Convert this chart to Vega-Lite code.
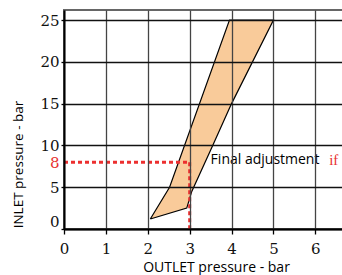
{
  "$schema": "https://vega.github.io/schema/vega-lite/v6.json",
  "width": 279,
  "height": 219,
  "autosize": "none",
  "padding": {"left": 64, "top": 10, "right": 0, "bottom": 46},
  "background": "white",
  "config": {"view": {"stroke": "#666", "strokeWidth": 2}},
  "datasets": {
    "poly": [
      {"i": 1, "x": 2.06, "y": 1.2},
      {"i": 2, "x": 2.52, "y": 5},
      {"i": 3, "x": 3.95, "y": 25},
      {"i": 4, "x": 5.0, "y": 25},
      {"i": 5, "x": 4.0, "y": 15},
      {"i": 6, "x": 3.55, "y": 10},
      {"i": 7, "x": 3.05, "y": 4.5},
      {"i": 8, "x": 2.93, "y": 2.5},
      {"i": 9, "x": 2.06, "y": 1.2}
    ],
    "red": [
      {"x": 0, "y": 8, "x2": 3, "y2": 8},
      {"x": 3, "y": 8, "x2": 3, "y2": 0}
    ],
    "labels": [
      {"x": 3.5, "y": 8.2, "label": "Final adjustment", "kind": "main"},
      {"x": 6.33, "y": 8.2, "label": "if", "kind": "red"}
    ]
  },
  "encoding": {
    "x": {
      "field": "x", "type": "quantitative",
      "scale": {"domain": [0, 6.66], "nice": false, "zero": false},
      "axis": {
        "values": [0, 1, 2, 3, 4, 5, 6],
        "title": "OUTLET pressure - bar",
        "titleFont": "Open Sans", "titleFontSize": 14, "titleFontWeight": "normal", "titleColor": "#000",
        "titleX": 152, "titleY": 38, "titleAlign": "center", "titleBaseline": "middle", "titleAnchor": null,
        "labelFont": "DejaVu Serif", "labelFontSize": 15, "labelColor": "#111", "labelFlush": false, "labelPadding": 7,
        "gridColor": "#444", "gridWidth": 1.3,
        "domainColor": "#000", "domainWidth": 2,
        "tickSize": 5, "tickColor": "#000", "tickWidth": 1.3,
        "zindex": 1
      }
    },
    "y": {
      "field": "y", "type": "quantitative",
      "scale": {"domain": [0, 26.2], "nice": false, "zero": false},
      "axis": {
        "values": [0, 5, 8, 10, 15, 20, 25],
        "title": "INLET pressure - bar",
        "titleFont": "Open Sans", "titleFontSize": 13.5, "titleFontWeight": "normal", "titleColor": "#000",
        "titleX": -46, "titleY": 154, "titleAngle": -90, "titleAlign": "center", "titleBaseline": "middle", "titleAnchor": null,
        "labelFont": "DejaVu Serif", "labelFontSize": 15, "labelFlush": true, "labelPadding": 2,
        "labelColor": {"condition": {"test": "datum.value == 8", "value": "#e8312f"}, "value": "#111"},
        "gridColor": "#111", "gridWidth": 1.3,
        "gridOpacity": {"condition": {"test": "datum.value == 8", "value": 0}, "value": 1},
        "domainColor": "#000", "domainWidth": 2,
        "tickSize": 3, "tickColor": "#000", "tickWidth": 1.3,
        "tickOpacity": {"condition": {"test": "datum.value == 8", "value": 0}, "value": 1},
        "zindex": 1
      }
    }
  },
  "layer": [
    {
      "data": {"name": "poly"},
      "mark": {"type": "line", "fill": "#f9cb9a", "stroke": "#000", "strokeWidth": 1.2},
      "encoding": {"order": {"field": "i", "type": "quantitative"}}
    },
    {
      "data": {"name": "red"},
      "mark": {"type": "rule", "color": "#ec2f2f", "strokeWidth": 3, "strokeDash": [4, 3]},
      "encoding": {"x2": {"field": "x2"}, "y2": {"field": "y2"}}
    },
    {
      "data": {"name": "labels"},
      "transform": [{"filter": "datum.kind == 'main'"}],
      "mark": {"type": "text", "align": "left", "baseline": "middle", "font": "Open Sans", "fontSize": 14, "color": "#000"},
      "encoding": {"text": {"field": "label"}}
    },
    {
      "data": {"name": "labels"},
      "transform": [{"filter": "datum.kind == 'red'"}],
      "mark": {"type": "text", "align": "left", "baseline": "middle", "font": "Liberation Serif", "fontSize": 15, "color": "#e8312f"},
      "encoding": {"text": {"field": "label"}}
    }
  ]
}
